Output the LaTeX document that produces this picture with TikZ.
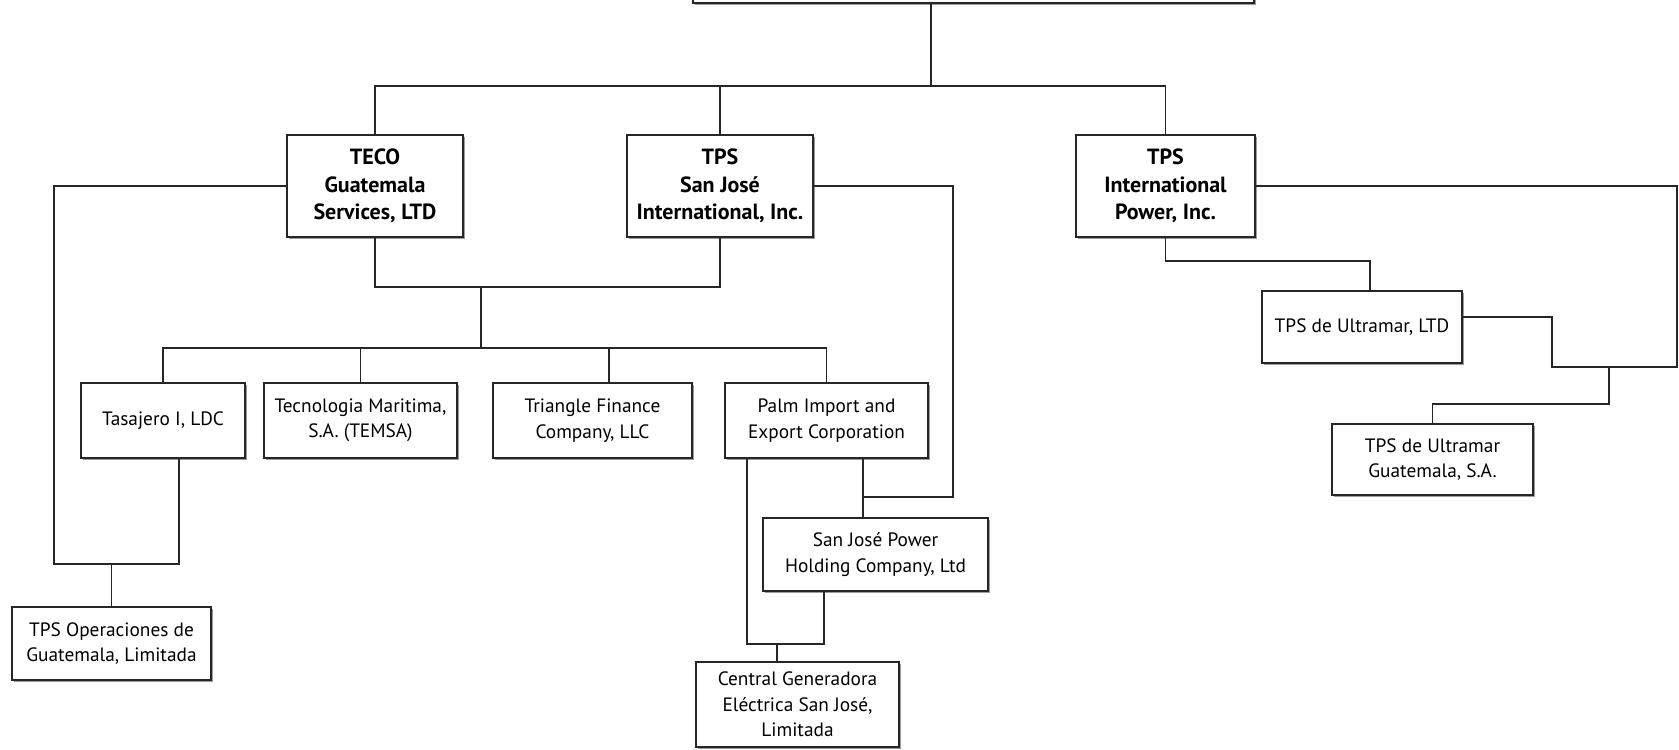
\documentclass[tikz,border=0pt]{standalone}
\usepackage{fontspec}
\setmainfont{PT Sans}
\usetikzlibrary{shadows}
\tikzset{
  orgbox/.style={draw=black!85, line width=0.8pt, fill=white, inner sep=0pt, align=center,
    font=\fontsize{14.5}{19}\selectfont,
    drop shadow={shadow xshift=1.3pt, shadow yshift=-1.3pt, fill=black!55, opacity=0.7}},
  boldbox/.style={orgbox, font=\fontsize{16.5}{20.5}\selectfont\bfseries},
  conn/.style={draw=black!85, line width=0.9pt}
}
\newcommand\orgnode[7]{%
  \node[#7, minimum width={(#4-#2)*0.75pt}, minimum height={(#5-#3)*0.75pt}] (#1) at ({(#2+#4)/2},{(#3+#5)/2}) {#6};}
\begin{document}
\begin{tikzpicture}[x=0.75pt, y=-0.75pt]
\useasboundingbox (0,0) rectangle (1679,750);
\clip (0,0) rectangle (1679,750);
\fill[white] (0,0) rectangle (1679,750);
% nodes
\node[draw=black!85, line width=2pt, fill=white, minimum width={(1254-693)*0.75pt}, minimum height={40*0.75pt}, inner sep=0pt,
  drop shadow={shadow xshift=1.3pt, shadow yshift=-1.3pt, fill=black!55, opacity=0.7}] (top) at ({(693+1254)/2},-17) {};
\orgnode{teco}{287}{135}{463}{237}{TECO\\Guatemala\\Services, LTD}{boldbox}
\orgnode{tpssj}{627}{135}{813}{237}{TPS\\San José\\International, Inc.}{boldbox}
\orgnode{tpsint}{1076}{135}{1255}{237}{TPS\\International\\Power, Inc.}{boldbox}
\orgnode{tas}{81}{383}{245}{458}{Tasajero I, LDC}{orgbox}
\orgnode{tec}{264}{383}{457}{458}{Tecnologia Maritima,\\S.A. (TEMSA)}{orgbox}
\orgnode{tri}{493}{383}{692}{458}{Triangle Finance\\Company, LLC}{orgbox}
\orgnode{palm}{725}{383}{928}{458}{Palm Import and\\Export Corporation}{orgbox}
\orgnode{sjp}{763}{518}{988}{591}{San José Power\\Holding Company, Ltd}{orgbox}
\orgnode{cge}{696}{662}{899}{747}{Central Generadora\\Eléctrica San José,\\Limitada}{orgbox}
\orgnode{tpsop}{12}{607}{211}{680}{TPS Operaciones de\\Guatemala, Limitada}{orgbox}
\orgnode{ultd}{1262}{291}{1462}{363}{TPS de Ultramar, LTD}{orgbox}
\orgnode{ugt}{1332}{424}{1533}{495}{TPS de Ultramar\\Guatemala, S.A.}{orgbox}
% junction coordinates
\coordinate (h1) at (931,86);
\coordinate (c1) at (54,564);
\coordinate (c2) at (179,564);
\coordinate (c3) at (481,287);
\coordinate (c4) at (481,348);
\coordinate (d3) at (609,348);
\coordinate (c5) at (953,497);
\coordinate (c6) at (863,497);
\coordinate (c7) at (747,644);
\coordinate (c8) at (824,644);
\coordinate (c9) at (777,644);
\coordinate (c10) at (1370,261);
\coordinate (e1) at (1677,190);
\coordinate (e2) at (1677,367);
\coordinate (c11) at (1552,367);
\coordinate (c12) at (1552,317);
\coordinate (c13) at (1609,367);
\coordinate (c14) at (1609,404);
% connectors
\draw[conn] (top.south -| h1) -- (h1);
\draw[conn] (teco.north) |- (tpsint.north |- h1) -- (tpsint.north);
\draw[conn] (tpssj.north) -- (tpssj.north |- h1);
\draw[conn] (teco.west) -| (c1) -- (c2) -- (c2 |- tas.south);
\draw[conn] (tpsop.north) -- (tpsop.north |- c1);
\draw[conn] (teco.south) |- (tpssj.south |- c3) -- (tpssj.south);
\draw[conn] (c3) -- (c4);
\draw[conn] (tas.north) |- (palm.north |- c4) -- (palm.north);
\draw[conn] (tec.north) -- (tec.north |- c4);
\draw[conn] (d3) -- (d3 |- tri.north);
\draw[conn] (tpssj.east) -| (c5) -- (c6);
\draw[conn] (c6 |- palm.south) -- (c6 |- sjp.north);
\draw[conn] (c7 |- palm.south) -- (c7) -- (c8) -- (c8 |- sjp.south);
\draw[conn] (c9) -- (c9 |- cge.north);
\draw[conn] (tpsint.south) |- (c10) -- (c10 |- ultd.north);
\draw[conn] (tpsint.east) -- (tpsint.east -| e1) -- (e2) -- (c11) -- (c12) -- (c12 -| ultd.east);
\draw[conn] (c13) -- (c14) -| (ugt.north);
\end{tikzpicture}
\end{document}
